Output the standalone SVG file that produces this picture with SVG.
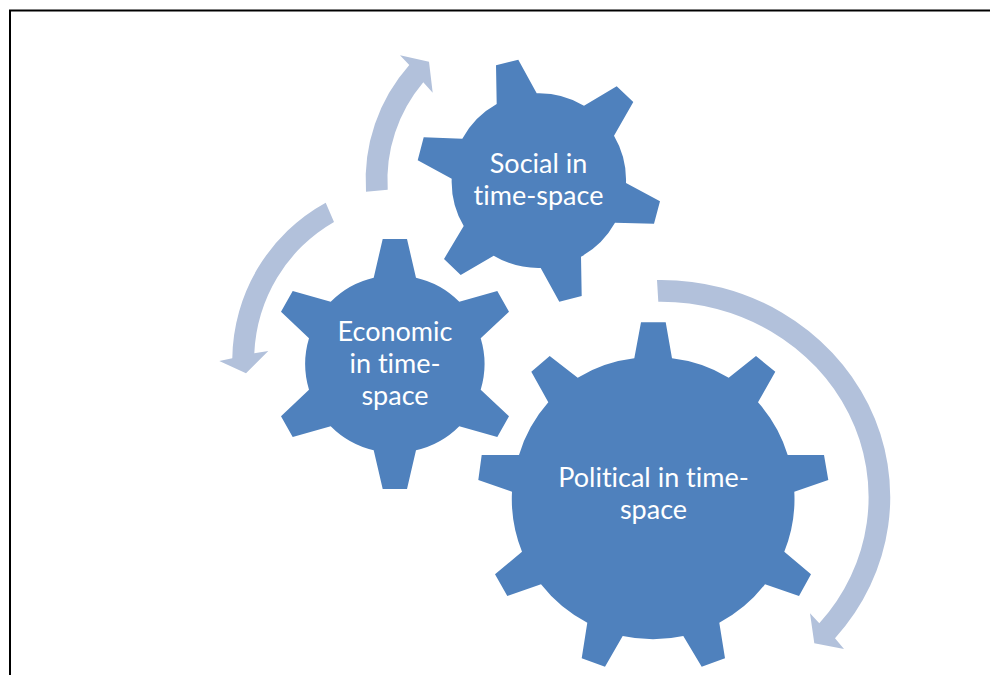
<svg xmlns="http://www.w3.org/2000/svg" width="990" height="675" viewBox="0 0 990 675">
<style>
.gear{fill:#4f81bd}
.arrow{fill:#b2c1db}
.frame{fill:none;stroke:#000;stroke-width:2}
text{font-family:"Lato","Carlito","Liberation Sans",sans-serif;font-size:27px;font-variant-ligatures:none;fill:#fff;text-anchor:middle}
</style>
<rect width="990" height="675" fill="#fff"/>
<path class="frame" d="M10 675V10.500H990"/>
<g id="connectors">
<path class="arrow" d="M366 191.700A173.500 173.500 0 0 1 409.300 65L400 55.300L429 61.700L432.700 92.700L423.300 82.300A152 152 0 0 0 387.700 189.700Z"/>
<path class="arrow" d="M325.700 202.700A180 180 0 0 0 232.300 358.300L219.300 361L246 373.300L268.300 351L254.300 353.300A159 159 0 0 1 334 222Z"/>
<path class="arrow" d="M657 280A229 217 0 0 1 835 638.300L844 649L814.300 643.300L810 613.300L819.300 623.300A207.700 195.300 0 0 0 658.300 301.700Z"/>
</g>
<g id="node-social">
<path class="gear" d="M496.700 104L496 65.300L518.300 59.700L536.700 93.300A87.500 87.500 0 0 1 584 105.700L616.700 86.300L633.300 102L614 135.700A87.500 87.500 0 0 1 626 183L660 201.300L654 223.700L615 222.700A87.500 87.500 0 0 1 581 256.700L581.700 296L559.300 301.700L540.700 268A87.500 87.500 0 0 1 493.700 255.700L460.700 275L444 259L463.700 226A87.500 87.500 0 0 1 451.700 178.700L417.700 160.300L423.700 137.300L462.300 138.700A87.500 87.500 0 0 1 496.700 104Z"/>
<text x="538.500" y="173">Social in</text>
<text x="538.500" y="205">time-space</text>
</g>
<g id="node-economic">
<path class="gear" d="M373.700 277.700L382.700 239H407L416 277.700A89 89 0 0 1 459.300 301.700L497.300 291L509 311.700L480.700 338.300A89 89 0 0 1 480.700 389.700L509 416.300L497.300 437L459.300 426.300A89 89 0 0 1 416 450.300L407 489H382.700L373.700 450.300A89 89 0 0 1 330.700 426.300L292.700 437L281 416.300L309 389.700A89 89 0 0 1 309 338.300L281 311.700L292.700 291L330.700 301.700A89 89 0 0 1 373.700 277.700Z"/>
<text x="395" y="341">Economic</text>
<text x="395" y="373">in time-</text>
<text x="395" y="405">space</text>
</g>
<g id="node-political">
<path class="gear" d="M634.300 358.300L641 322.300H665.700L672 358.300A141 141 0 0 1 728.700 377.700L756 356L775.300 371.700L758 402.300A141 141 0 0 1 787.700 455H824L828.300 480L794.300 491.700A141 141 0 0 1 784.300 551.700L811 574.300L799 596L765 584.300A141 141 0 0 1 719.300 622.700L725 658.300L701.700 666.700L683.300 636A141 141 0 0 1 622.700 636L605 666.700L581.700 658.300L587.300 622.700A141 141 0 0 1 541 584.300L507.300 596L495 574.300L522 551.700A141 141 0 0 1 512 491.700L478.300 480L481.700 455H519A141 141 0 0 1 548.300 402.300L531.300 371.700L549.700 356L577.700 377.700A141 141 0 0 1 634.300 358.300Z"/>
<text x="653.500" y="487">Political in time-</text>
<text x="653.500" y="519">space</text>
</g>
</svg>
